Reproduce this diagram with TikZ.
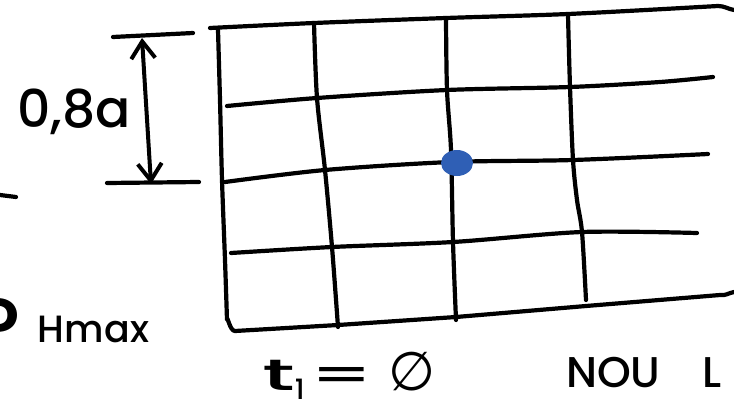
\documentclass[tikz,border=0pt]{standalone}
\usepackage{fontspec}
\setmainfont{Poppins Medium}
\newfontfamily\symfont{DejaVu Sans}
\usetikzlibrary{arrows.meta,shapes.geometric}
\definecolor{dotblue}{RGB}{47,95,181}
\begin{document}
\begin{tikzpicture}[x=1pt,y=-1pt,line cap=round,line join=round,
  pen/.style={line width=4.2pt,black},
  barb/.style={line width=4pt,{Straight Barb[length=17pt,width=24pt]}-{Straight Barb[length=17pt,width=24pt]}},
  lbl/.style={inner sep=0pt,anchor=base west}]
\useasboundingbox (0,0) rectangle (734,410);
% grid outline
\draw[pen] plot[smooth] coordinates {(210,28) (314,23) (446,18) (568,14) (700,7)} -- (718,6) to[out=0,in=170] (734,10);
\draw[pen] plot[smooth] coordinates {(218,30) (220,100) (222,180) (225,260) (227,320)} to[out=85,in=180] (235,331)
  -- (338,325) -- (456,317) -- (586,306) -- (720,295) to[out=-10,in=190] (734,292);
% horizontals
\draw[pen] plot[smooth] coordinates {(227,106) (317,98) (447,90) (570,87) (660,82) (713,77)};
\draw[pen] plot[smooth] coordinates {(225,182) (325,170) (451,162) (573,160) (708,154)};
\draw[pen] plot[smooth] coordinates {(231,253) (332,247) (453,242) (582,232) (697,233)};
% verticals
\draw[pen] plot[smooth] coordinates {(314,23) (317,98) (325,170) (332,247) (338,327)};
\draw[pen] plot[smooth] coordinates {(446,18) (447,90) (451,150) (453,242) (456,320)};
\draw[pen] plot[smooth] coordinates {(568,15) (570,87) (573,160) (577,200) (582,232) (586,300)};
% dot
\node[ellipse,fill=dotblue,minimum width=32pt,minimum height=26pt,inner sep=0pt] (dot) at (457,163) {};
% dimension
\coordinate (t1) at (113,37); \coordinate (t2) at (193,33);
\coordinate (b1) at (107,183); \coordinate (b2) at (199,182);
\draw[pen] (t1) -- (t2);
\draw[pen] (b1) -- (b2);
\coordinate (dtop) at (142,38); \coordinate (dbot) at (151,184);
\draw[barb] (dtop) -- (dbot);
\draw[pen] (0,195) -- (16,197);
% texts
\node[lbl,font=\fontsize{52}{52}\selectfont] (dim) at (17,127) {0,8a};
\node[lbl,font=\fontsize{82}{82}\selectfont] (ph) at (-29,355) {P\hspace{18pt}\raisebox{13pt}{\fontsize{38}{38}\selectfont Hmax}};
\node[lbl,font=\fontsize{44}{44}\selectfont] (tt) at (262,390) {\scalebox{2}[1]{t}\raisebox{-9pt}{\fontsize{28}{28}\selectfont 1}\hspace{5pt}\scalebox{1.9}[1]{=}\hspace{14pt}{\symfont\fontsize{54}{54}\selectfont ∅}};
\node[lbl,font=\fontsize{43}{43}\selectfont] (nou) at (566,387) {NOU\hspace{42pt}L};
\end{tikzpicture}
\end{document}
